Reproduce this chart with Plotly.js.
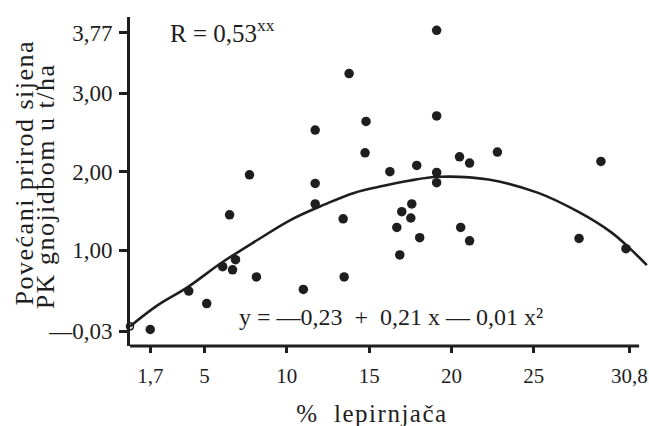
<!DOCTYPE html>
<html>
<head>
<meta charset="utf-8">
<script src="https://cdn.plot.ly/plotly-3.0.1.min.js"></script>
<style>
html,body{margin:0;padding:0;background:#fff;}
#chart{width:649px;height:426px;}
.spaced text{letter-spacing:1.5px;}
</style>
</head>
<body>
<div id="chart"></div>
<script>
// scatter points: % lepirnjača vs. increased hay yield (t/ha)
const pointsX = [1.7, 4.04, 5.13, 6.10, 6.70, 6.88, 6.52, 8.15, 11.00, 11.72, 11.72, 13.42, 13.48, 7.73, 11.72, 13.78, 14.81, 14.75,
                 19.10, 19.10, 16.26, 17.89, 20.49, 21.10, 22.79, 29.08, 19.10, 19.10, 17.59, 16.98, 17.53, 16.68, 18.07, 16.86, 20.56, 21.10, 27.75, 30.60];
const pointsY = [-0.01, 0.48, 0.32, 0.79, 0.75, 0.88, 1.45, 0.66, 0.50, 1.59, 1.85, 1.40, 0.66, 1.96, 2.53, 3.25, 2.64, 2.24,
                 3.80, 2.71, 2.00, 2.08, 2.19, 2.11, 2.25, 2.13, 1.99, 1.86, 1.59, 1.49, 1.41, 1.29, 1.16, 0.94, 1.29, 1.12, 1.15, 1.02];

// regression curve as drawn
const curveX = [0.47, 2.16, 3.98, 6.03, 8.21, 10.27, 12.27, 14.08, 15.89, 17.41, 19.22, 22.25, 25.27, 27.69, 29.69, 30.90, 31.87];
const curveY = [0.03, 0.30, 0.53, 0.84, 1.13, 1.39, 1.58, 1.73, 1.82, 1.885, 1.935, 1.90, 1.73, 1.49, 1.23, 1.01, 0.81];

const xTickVals = [1.7, 5, 10, 15, 20, 25, 30.8];
const xTickText = ['1,7', '5', '10', '15', '20', '25', '30,8'];
const yTickVals = [-0.03, 1, 2, 3, 3.77];
const yTickText = ['—0,03', '1,00', '2,00', '3,00', '3,77'];

const ink = '#1e1e1e';
const serif = 'Liberation Serif, Times New Roman, serif';

const traces = [
  {
    x: curveX, y: curveY, mode: 'lines', type: 'scatter',
    line: {color: ink, width: 2.6, shape: 'spline', smoothing: 1},
    hoverinfo: 'skip', showlegend: false
  },
  {
    x: [curveX[0]], y: [curveY[0]], mode: 'markers', type: 'scatter',
    marker: {symbol: 'circle-open', size: 7, color: ink, line: {width: 1.5, color: ink}},
    cliponaxis: false, showlegend: false
  },
  {
    x: pointsX, y: pointsY, mode: 'markers', type: 'scatter',
    marker: {symbol: 'circle', size: 9.5, color: ink},
    cliponaxis: false, showlegend: false
  }
];

const layout = {
  width: 649, height: 426,
  margin: {l: 130, r: 0, t: 17, b: 80},
  paper_bgcolor: '#ffffff', plot_bgcolor: '#ffffff',
  font: {family: serif, color: ink},
  showlegend: false,
  xaxis: {
    range: [0.47, 32.0], showgrid: false, zeroline: false, showline: false,
    tickmode: 'array', tickvals: xTickVals, ticktext: xTickText,
    ticks: 'outside', ticklen: 6, tickwidth: 3, tickcolor: ink,
    tickfont: {family: serif, size: 21, color: ink}, ticklabelstandoff: 5,
    ticklabeloverflow: 'allow'
  },
  yaxis: {
    range: [-0.22, 3.97], showgrid: false, zeroline: false,
    showline: true, linewidth: 3, linecolor: ink,
    tickmode: 'array', tickvals: yTickVals, ticktext: yTickText,
    ticks: 'outside', ticklen: 8, tickwidth: 3, tickcolor: ink,
    tickfont: {family: serif, size: 23, color: ink}, ticklabelstandoff: 2,
    ticklabeloverflow: 'allow'
  },
  shapes: [
    {type: 'line', xref: 'x', yref: 'paper', x0: 0.47, x1: 31.4, y0: 0, y1: 0,
     line: {color: ink, width: 3}}
  ],
  annotations: [
    {xref: 'paper', yref: 'paper', x: -0.2023, y: 0.526, text: 'Povećani prirod sijena',
     textangle: -90, showarrow: false, xanchor: 'center', yanchor: 'middle',
     font: {family: serif, size: 26, color: ink}},
    {xref: 'paper', yref: 'paper', x: -0.1638, y: 0.486, text: 'PK gnojidbom u t/ha',
     textangle: -90, showarrow: false, xanchor: 'center', yanchor: 'middle',
     font: {family: serif, size: 26, color: ink}},
    {xref: 'paper', yref: 'paper', x: 0.466, y: -0.205, text: '% &nbsp;lepirnjača',
     showarrow: false, xanchor: 'center', yanchor: 'middle',
     font: {family: serif, size: 25, color: ink}},
    {xref: 'paper', yref: 'paper', x: 0.0732, y: 0.957, text: 'R = 0,53<sup>xx</sup>',
     showarrow: false, xanchor: 'left', yanchor: 'middle',
     font: {family: serif, size: 25, color: ink}},
    {xref: 'paper', yref: 'paper', x: 0.206, y: 0.088, text: 'y = —0,23 &nbsp;+ &nbsp;0,21 x — 0,01 x²',
     showarrow: false, xanchor: 'left', yanchor: 'middle',
     font: {family: serif, size: 24, color: ink}}
  ]
};

Plotly.newPlot('chart', traces, layout, {displayModeBar: false, staticPlot: true}).then(function () {
  // the scanned axis labels are loosely letter-spaced
  document.querySelectorAll('.annotation').forEach(function (g, i) {
    if (i <= 2) g.classList.add('spaced');
  });
});
</script>
</body>
</html>
